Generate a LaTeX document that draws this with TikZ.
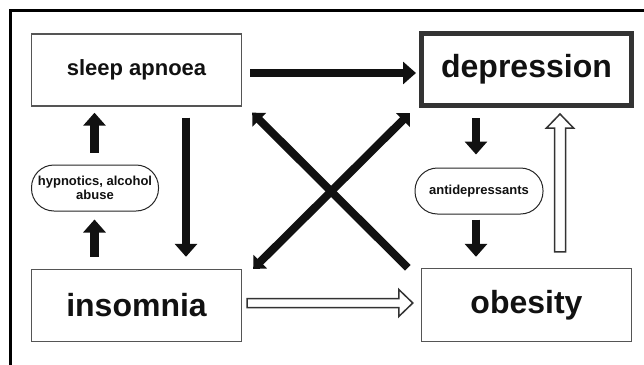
\documentclass[tikz,border=0pt]{standalone}
\usepackage{fontspec}
\setmainfont{Liberation Sans}
\usetikzlibrary{arrows.meta,calc}
\definecolor{ink}{HTML}{111111}
\definecolor{boxgray}{HTML}{555555}
\definecolor{thickgray}{HTML}{333333}
\begin{document}
\begin{tikzpicture}[x=1pt,y=-1pt,
  box/.style={draw=boxgray, line width=1.4pt, minimum width=210pt, minimum height=72pt, inner sep=0pt, text=ink, font=\bfseries\fontsize{32}{36}\selectfont},
  mainbox/.style={box, draw=thickgray, line width=5pt},
  smallbox/.style={box, font=\bfseries\fontsize{22}{26}\selectfont},
  pill/.style={draw=black!85, line width=1pt, rounded corners=22.5pt, minimum width=127pt, minimum height=46pt, inner sep=0pt, align=center, text=ink, font=\bfseries\fontsize{13}{14}\selectfont},
  sarrow/.style={line width=8.5pt, ink, -{Triangle[length=13pt,width=22pt]}},
  darrow/.style={line width=8pt, ink, {Triangle[length=10pt,width=19pt]}-{Triangle[length=10pt,width=19pt]}},
  diagarrow/.style={line width=8pt, ink, -{Triangle[length=10pt,width=19pt]}},
  hollow/.style={draw=black!80, line width=1.5pt, fill=white, line join=miter}]
\useasboundingbox (0,0) rectangle (644,364);
\fill[white] (0,0) rectangle (644,364);
% frame
\draw[line width=2.4pt, black] (10.3,370) -- (10.3,10.3) -- (650,10.3);
% nodes
\node[smallbox] (sa)  at (136.5,70)  {sleep apnoea};
\node[mainbox]  (dep) at (526.5,69.5) {depression};
\node[box, minimum height=72pt] (ins) at (136.5,305.5) {insomnia};
\node[box, minimum height=73pt] (obe) at (526.5,305) {obesity};
\node[pill] (hyp)  at (95,188) {hypnotics, alcohol\\abuse};
\node[pill, minimum width=128pt] (anti) at (479,191) {antidepressants};
% solid arrows
\draw[sarrow] ($(sa.east)+(8,3)$) -- ($(dep.west)+(-3,3.5)$);
\draw[sarrow] ($(hyp.north)+(-0.5,-12)$) -- ($(sa.south)+(-42,6)$);
\draw[sarrow] ($(ins.north)+(-42,-12)$) -- ($(hyp.south)+(-0.5,8)$);
\draw[sarrow] ($(sa.south)+(49.5,11)$) -- ($(ins.north)+(49.5,-12)$);
\draw[sarrow] ($(dep.south)+(-50.5,10)$) -- ($(anti.north)+(-3,-13)$);
\draw[sarrow] ($(anti.south)+(-3,5)$) -- ($(obe.north)+(-50.5,-11)$);
% diagonals
\draw[diagarrow] ($(obe.north west)+(-13,0)$) -- ($(sa.south east)+(10,6)$);
\draw[darrow] ($(ins.north east)+(11,0)$) -- ($(dep.south west)+(-9,5)$);
% hollow arrows
\coordinate (v1) at ($(obe.north)+(33.5,-16)$);
\coordinate (v2) at ($(dep.south)+(33.5,6)$);
\draw[hollow] ($(v1)+(-5.5,0)$) -- ($(v2)+(-5.5,14)$) -- ($(v2)+(-13.5,14)$) -- (v2) -- ($(v2)+(13.5,14)$) -- ($(v2)+(5.5,14)$) -- ($(v1)+(5.5,0)$) -- cycle;
\coordinate (h1) at ($(ins.east)+(5,-2.5)$);
\coordinate (h2) at ($(obe.west)+(-8,-2)$);
\draw[hollow] ($(h1)+(0,-4.5)$) -- ($(h2)+(-14,-4.5)$) -- ($(h2)+(-14,-13.5)$) -- (h2) -- ($(h2)+(-14,13.5)$) -- ($(h2)+(-14,4.5)$) -- ($(h1)+(0,4.5)$) -- cycle;
\end{tikzpicture}
\end{document}
